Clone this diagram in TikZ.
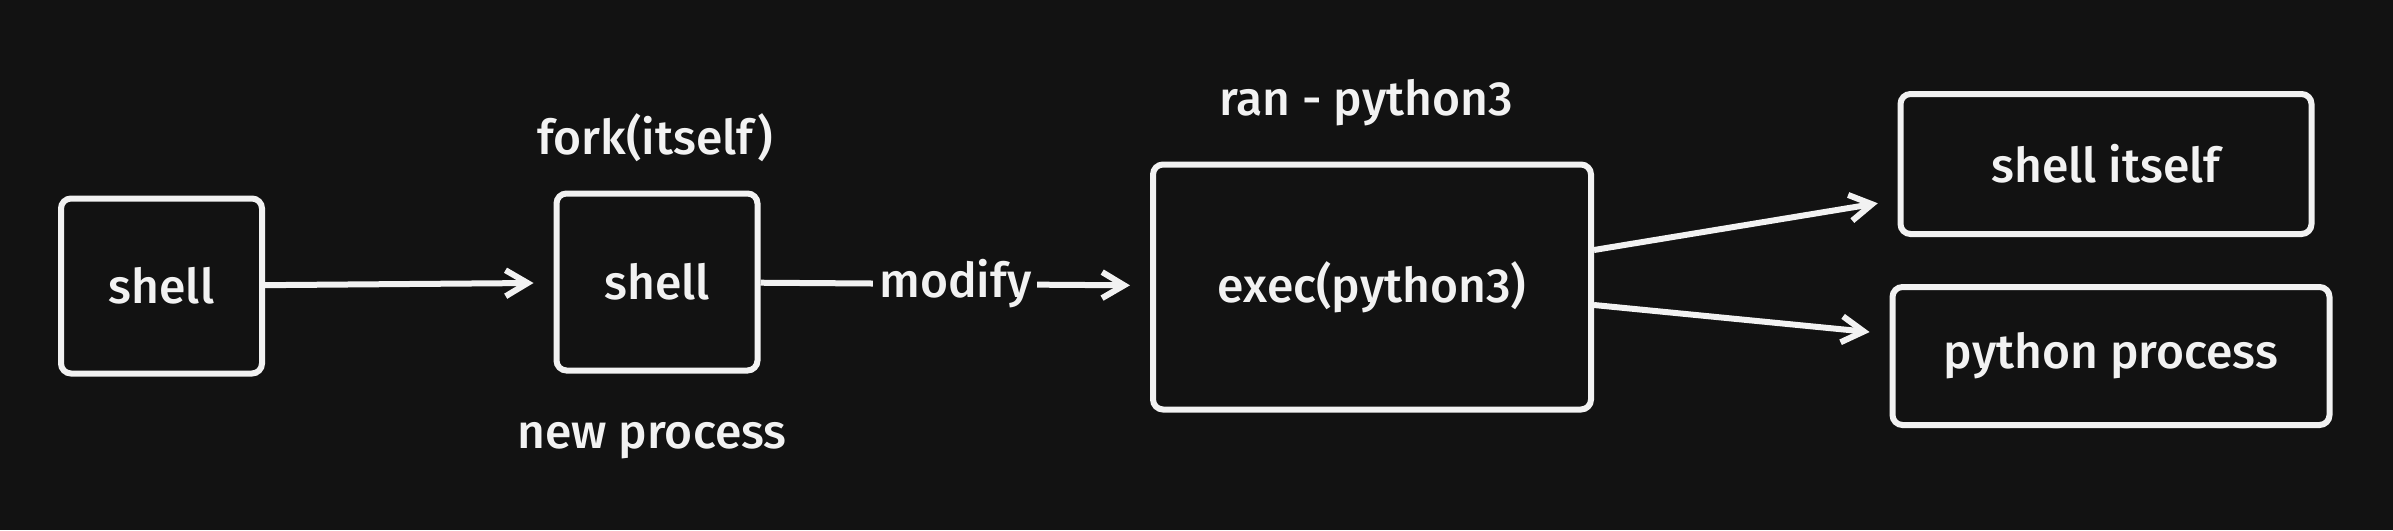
\documentclass[tikz,border=0pt]{standalone}
\usepackage{fontspec}
\setmainfont{Fira Sans Medium}
\usetikzlibrary{arrows.meta}
\definecolor{bgcol}{HTML}{121212}
\definecolor{inkcol}{HTML}{F2F2F2}

\begin{document}
\begin{tikzpicture}[x=5pt,y=5pt]
\tikzstyle{every node}+=[text=inkcol,font=\fontsize{24}{29}\selectfont]
\tikzstyle{procbox}=[draw=inkcol,line width=3pt,rounded corners=5pt,fill=bgcol,inner sep=0pt]
\tikzstyle{flow}=[draw=inkcol,line width=3pt,-{Straight Barb[length=11pt,width=13pt]},shorten >=10pt]
\fill[bgcol] (0,0) rectangle (239.3,-53);
\useasboundingbox (0,0) rectangle (239.3,-53);
\node[procbox,minimum width=100.5pt,minimum height=87.5pt] (shellA) at (16.15,-28.6) {shell};
\node[procbox,minimum width=100.5pt,minimum height=88.5pt] (shellB) at (65.7,-28.2) {shell};
\node[procbox,minimum width=219pt,minimum height=122.5pt] (exec) at (137.2,-28.7) {exec(python3)};
\node[procbox,minimum width=205.5pt,minimum height=70pt] (shellself) at (210.6,-16.4) {shell itself};
\node[procbox,minimum width=218.5pt,minimum height=69pt] (pyproc) at (211.1,-35.6) {python process};
\node (fork) at (65.5,-13.8) {fork(itself)};
\node (newproc) at (65.2,-44.1) {new process};
\node (ran) at (136.6,-10.25) {ran - python3};
\draw[flow] (shellA) -- (shellB);
\draw[flow] (shellB) -- node[fill=bgcol,inner sep=3pt] (modify) {modify} (exec);
\draw[flow] ([yshift=18.5pt]exec.east) -- ([yshift=-18pt]shellself.west);
\draw[flow] ([yshift=-9pt]exec.east) -- ([yshift=11pt]pyproc.west);
\end{tikzpicture}
\end{document}
